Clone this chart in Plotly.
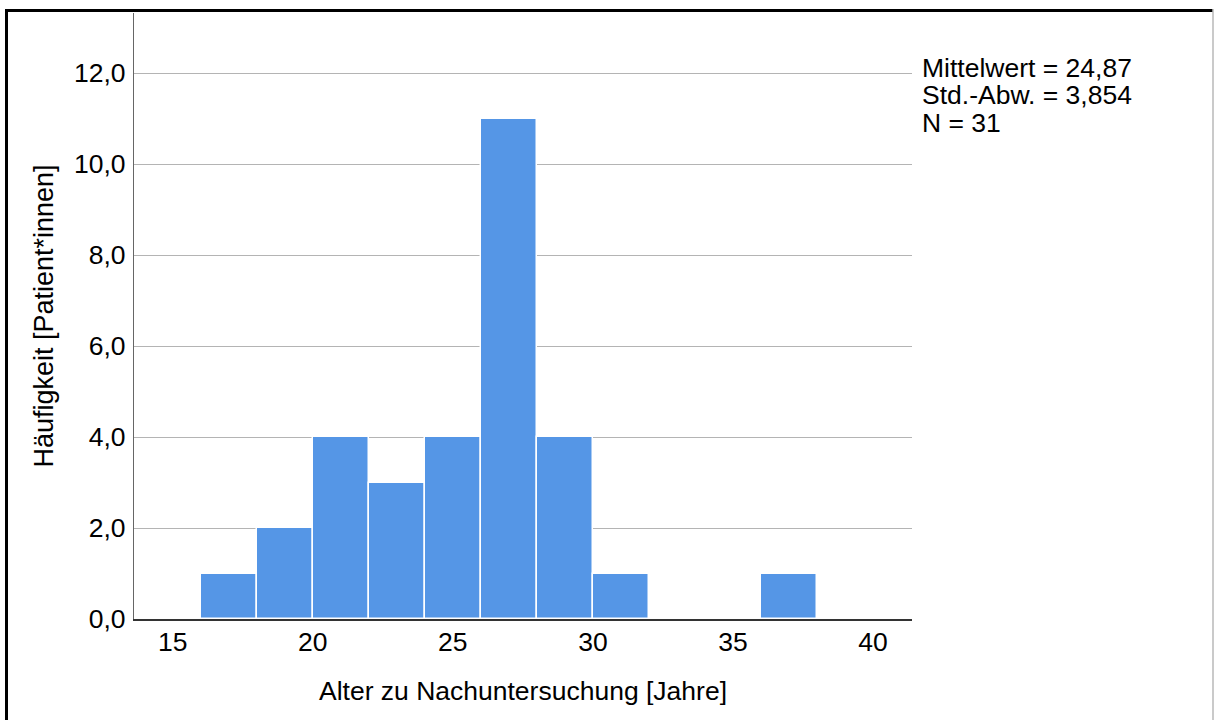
import plotly.graph_objects as go

# Data
bin_left = [16, 18, 20, 22, 24, 26, 28, 30, 32, 34, 36]
bin_width = 2
counts = [1, 2, 4, 3, 4, 11, 4, 1, 0, 0, 1]
x_ticks = [15, 20, 25, 30, 35, 40]
y_ticks = [0, 2, 4, 6, 8, 10, 12]
stats_lines = ["Mittelwert = 24,87", "Std.-Abw. = 3,854", "N = 31"]

x_title = "Alter zu Nachuntersuchung [Jahre]"
y_title = "Häufigkeit [Patient*innen]"

centers = [b + bin_width / 2 for b in bin_left]

FONT = "Liberation Sans, Arial, sans-serif"
FS = 26.5

W, H = 1218, 720
PL, PR, PT, PB = 134, 912, 13, 619  # plot area in page px
L, R, T, B = PL, W - PR, PT, H - PB
pw, ph = W - L - R, H - T - B


def px2x(px):
    return (px - PL) / pw


def py2y(py):
    return (PB - py) / ph


fig = go.Figure()
fig.add_trace(go.Bar(
    x=centers, y=counts, width=[bin_width] * len(counts),
    marker=dict(color="#5596E6", line=dict(color="white", width=1.5)),
    showlegend=False,
))

fig.update_layout(
    width=W, height=H,
    margin=dict(l=L, r=R, t=T, b=B, pad=0),
    paper_bgcolor="white", plot_bgcolor="white",
    font=dict(family=FONT, size=FS, color="black"),
    bargap=0,
    separators=",.",
    xaxis=dict(
        range=[13.62, 41.39], tickvals=x_ticks, ticks="", showgrid=False,
        showline=True, linecolor="#333333", linewidth=1.5, zeroline=False,
        title=dict(text=x_title, font=dict(size=FS), standoff=26),
        tickfont=dict(size=FS), ticklabelstandoff=-2,
    ),
    yaxis=dict(
        range=[0, 13.32], tickvals=y_ticks, tickformat=".1f", ticks="",
        showgrid=True, gridcolor="#b4b4b4", gridwidth=1,
        showline=True, linecolor="#666666", linewidth=1.2, zeroline=False,
        title=dict(text=y_title, font=dict(size=27), standoff=12),
        tickfont=dict(size=FS), ticklabelstandoff=2,
    ),
)

# Stats text
line_px = [68, 95, 123]
for txt, py in zip(stats_lines, line_px):
    fig.add_annotation(
        text=txt, xref="paper", yref="paper",
        x=px2x(920), y=py2y(py),
        xanchor="left", yanchor="middle", showarrow=False,
        font=dict(size=FS, family=FONT),
    )

# Frame around figure
fig.add_shape(type="line", xref="paper", yref="paper",
              x0=px2x(6.5), x1=px2x(6.5), y0=py2y(9), y1=py2y(725),
              line=dict(color="black", width=3))
fig.add_shape(type="line", xref="paper", yref="paper",
              x0=px2x(5), x1=px2x(1213), y0=py2y(10.5), y1=py2y(10.5),
              line=dict(color="black", width=3))
fig.add_shape(type="line", xref="paper", yref="paper",
              x0=px2x(1213), x1=px2x(1213), y0=py2y(9), y1=py2y(725),
              line=dict(color="#b8b8b8", width=1.5))

fig.write_html(
    "out.html",
    config={"displayModeBar": False},
    post_script="document.body.style.margin='0';document.body.style.overflow='hidden';",
)
